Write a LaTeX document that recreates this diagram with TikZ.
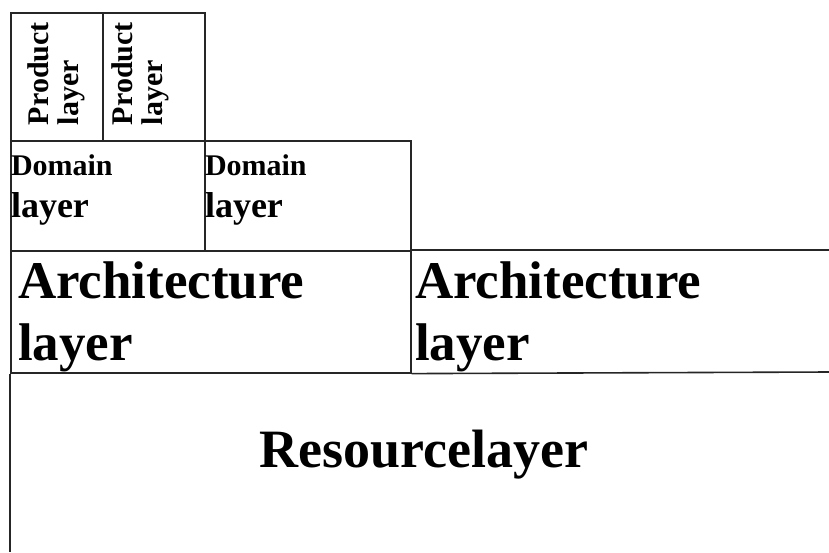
\documentclass[tikz,border=0pt]{standalone}
\usepackage{fontspec}
\setmainfont{Liberation Serif}
\begin{document}
\begin{tikzpicture}[x=1pt,y=-1pt,
  grid/.style={draw=black!85,line width=1.6pt},
  txt/.style={inner sep=0pt,outer sep=0pt,text=black,align=left},
  prodtxt/.style={txt,rotate=90,anchor=base west,font=\bfseries\fontsize{30}{30}\selectfont},
  domtxt/.style={txt,anchor=base west,font=\bfseries\fontsize{30}{42}\selectfont},
  archtxt/.style={txt,anchor=base west,font=\bfseries\fontsize{53}{62}\selectfont},
  restxt/.style={txt,anchor=base,font=\bfseries\fontsize{54}{60}\selectfont}]
\useasboundingbox[fill=white] (0,0) rectangle (829,552);
% cells
\node[grid,minimum width=92pt,minimum height=128pt,anchor=north west,inner sep=0pt] (p1) at (10,12) {};
\node[grid,minimum width=102pt,minimum height=128pt,anchor=north west,inner sep=0pt] (p2) at (102,12) {};
\node[grid,minimum width=194pt,minimum height=110pt,anchor=north west,inner sep=0pt] (d1) at (10,140) {};
\node[grid,minimum width=206pt,minimum height=110pt,anchor=north west,inner sep=0pt] (d2) at (204,140) {};
\node[grid,minimum width=400pt,minimum height=122pt,anchor=north west,inner sep=0pt] (a1) at (10,250) {};
\coordinate (aR) at (829,250);
\coordinate (aRb) at (829,372);
\coordinate (rB) at (10,552);
\draw[grid] (a1.north east) -- (aR);
\draw[grid] (a1.south east) -- (aRb);
\draw[grid] (a1.south west) -- (rB);
% texts (anchored at the baseline of their last line)
\node[prodtxt] (tp1) at (78,125) {Product\\layer};
\node[prodtxt] (tp2) at (162,125) {Product\\layer};
\node[domtxt] (td1) at (11,217) {Domain\\\fontsize{36}{42}\selectfont layer};
\node[domtxt] (td2) at (205,217) {Domain\\\fontsize{36}{42}\selectfont layer};
\node[archtxt] (ta1) at (18,360) {Architecture\\layer};
\node[archtxt] (ta2) at (415,360) {Architecture\\layer};
\node[restxt] (tr) at (424,467) {Resourcelayer};
\end{tikzpicture}
\end{document}
